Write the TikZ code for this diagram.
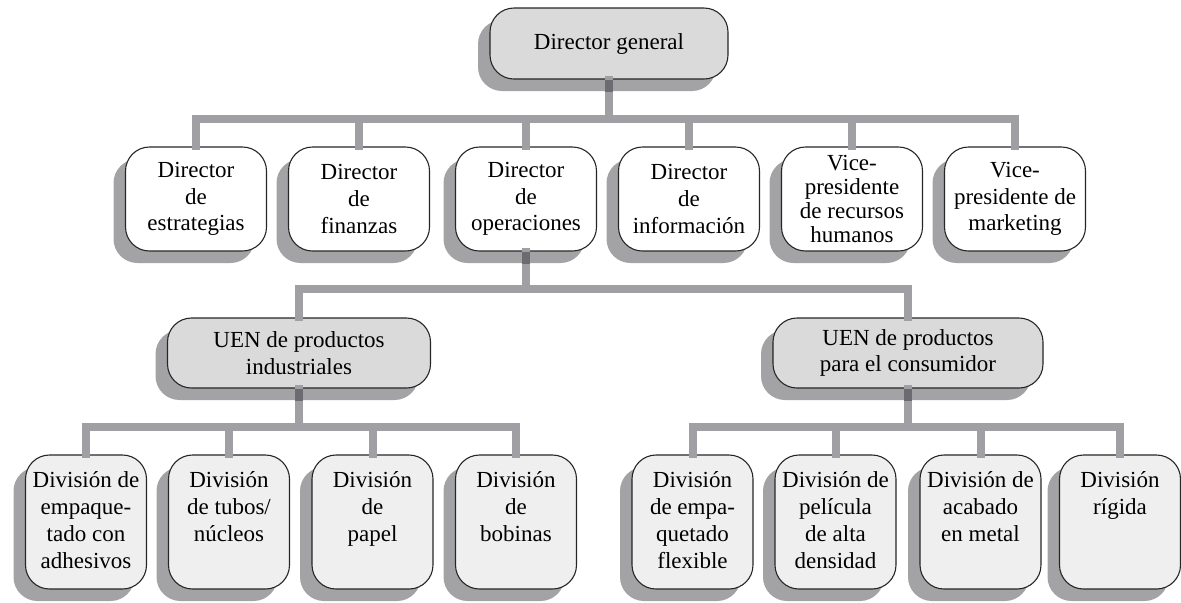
\documentclass[tikz,border=0pt]{standalone}
\usepackage{fontspec}
\setmainfont{Liberation Serif}
\usetikzlibrary{shadows}
\definecolor{shadowc}{HTML}{A3A3A6}
\definecolor{barc}{HTML}{A0A0A4}
\definecolor{darkbarc}{HTML}{6C6C70}
\definecolor{fillg}{HTML}{DADADA}
\definecolor{filld}{HTML}{EFEFEF}
\newcommand{\fs}{\fontsize{11.5pt}{13.4pt}\selectfont}
\newcommand{\divtext}[1]{\parbox[c][60pt][t]{58pt}{\centering\vspace*{3.6pt}\strut #1}}
\tikzset{
  orgbox/.style={draw=black!85, line width=0.55pt, rounded corners=12pt, align=center,
    inner sep=0pt, font=\fs,
    drop shadow={shadow xshift=-6pt, shadow yshift=-6pt, fill=shadowc, opacity=1}},
  topbox/.style={orgbox, fill=fillg, minimum width=119pt, minimum height=35.5pt},
  lvltwo/.style={orgbox, fill=white, minimum width=70.5pt, minimum height=52pt},
  uenbox/.style={orgbox, fill=fillg, minimum height=35pt},
  divbox/.style={orgbox, fill=filld, minimum width=60.5pt, minimum height=67pt},
  bar/.style={draw=barc, line width=4pt, line join=miter, line cap=rect},
  darkbar/.style={draw=darkbarc, line width=4pt},
}
\begin{document}
\begin{tikzpicture}[x=0.5pt, y=-0.5pt]
\useasboundingbox (0,0) rectangle (1181,602);

% top
\node[topbox] (dg) at (609,43.5) {Director general};

% level 2
\node[lvltwo] (a1) at (196,199) {Director\\de\\estrategias};
\node[lvltwo] (a2) at (359,199) {Director\\de\\finanzas};
\node[lvltwo] (a3) at (526,199) {Director\\de\\operaciones};
\node[lvltwo] (a4) at (689,199) {Director\\de\\información};
\node[lvltwo, font=\fontsize{11.5pt}{12pt}\selectfont] (a5) at (852,199) {Vice-\\presidente\\de recursos\\humanos};
\node[lvltwo] (a6) at (1015,199) {Vice-\\presidente de\\marketing};

% UEN
\node[uenbox, minimum width=131.5pt] (u1) at (299,353) {UEN de productos\\industriales};
\node[uenbox, minimum width=135pt] (u2) at (908,353) {UEN de productos\\para el consumidor};

% divisions
\node[divbox] (d1) at (86,522) {\divtext{División de\\empaque-\\tado con\\adhesivos}};
\node[divbox] (d2) at (229,522) {\divtext{División\\de tubos/\\núcleos}};
\node[divbox] (d3) at (372.5,522) {\divtext{División\\de\\papel}};
\node[divbox] (d4) at (516,522) {\divtext{División\\de\\bobinas}};
\node[divbox] (d5) at (692.5,522) {\divtext{División\\de empa-\\quetado\\flexible}};
\node[divbox] (d6) at (835.5,522) {\divtext{División de\\película\\de alta\\densidad}};
\node[divbox] (d7) at (980.5,522) {\divtext{División de\\acabado\\en metal}};
\node[divbox] (d8) at (1120,522) {\divtext{División\\rígida}};

% junctions
\coordinate (j1) at (609,119);
\coordinate (j2) at (526,289);
\coordinate (j3) at (299,427);
\coordinate (j4) at (908,427);

% connectors
\draw[bar] (dg.south) -- (j1);
\foreach \c in {a1,a2,a3,a4,a5,a6} \draw[bar] (j1) -| (\c.north);
\draw[bar] (a3.south) -- (j2);
\foreach \c in {u1,u2} \draw[bar] (j2) -| (\c.north);
\draw[bar] (u1.south) -- (j3);
\foreach \c in {d1,d2,d3,d4} \draw[bar] (j3) -| (\c.north);
\draw[bar] (u2.south) -- (j4);
\foreach \c in {d5,d6,d7,d8} \draw[bar] (j4) -| (\c.north);

% darker parts where the bars cross the shadows
\draw[darkbar] (dg.south) -- ++(0,12);
\draw[darkbar] (a3.south) -- ++(0,12);
\draw[darkbar] (u1.south) -- ++(0,12);
\draw[darkbar] (u2.south) -- ++(0,12);
\end{tikzpicture}
\end{document}
